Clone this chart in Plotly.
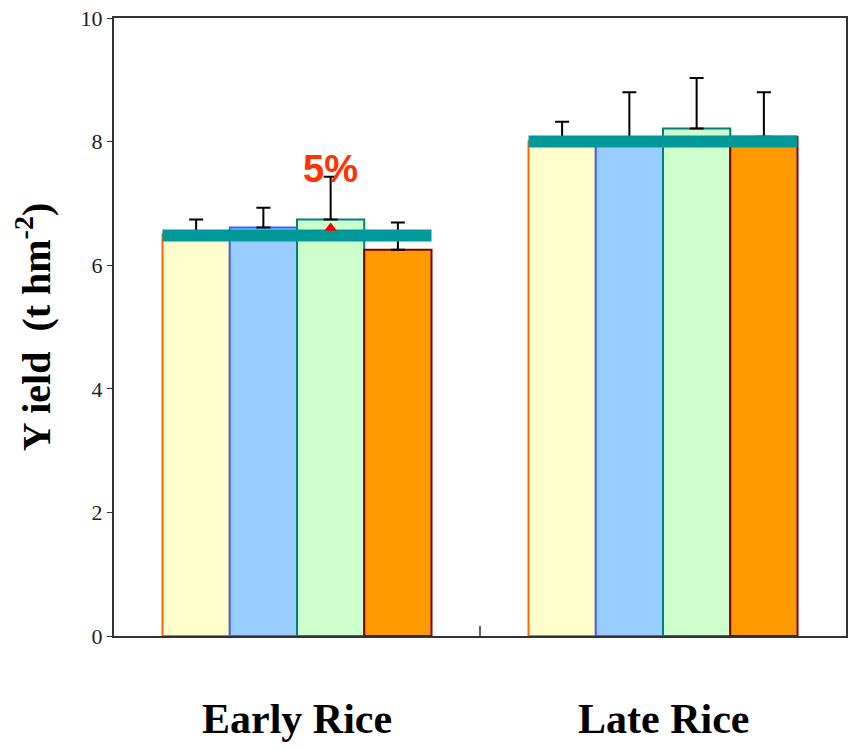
import plotly.graph_objects as go

categories = ["Early Rice", "Late Rice"]
cat_pos = [0, 1]
series_names = ["T1", "T2", "T3", "T4"]
values = [
    [6.50, 8.00],
    [6.61, 8.05],
    [6.74, 8.21],
    [6.25, 8.08],
]
errors = [
    [0.24, 0.32],
    [0.32, 0.75],
    [0.69, 0.82],
    [0.44, 0.72],
]
fills = ["#ffffcc", "#99ccff", "#ccffcc", "#ff9900"]
outlines = ["#ff6600", "#3366ff", "#008080", "#800000"]
mean_line = [6.48, 8.00]
group_half = 0.3675
marker_cat = 0
marker_series = 2
marker_y = 6.6
marker_label = "5%"

fig = go.Figure()
for i, name in enumerate(series_names):
    fig.add_trace(go.Bar(
        x=cat_pos, y=values[i], name=name,
        marker=dict(color=fills[i], line=dict(color=outlines[i], width=2)),
        error_y=dict(type="data", array=errors[i], arrayminus=[0, 0], symmetric=False,
                     color="black", thickness=2, width=7),
        showlegend=False,
    ))

for c, m in zip(cat_pos, mean_line):
    fig.add_trace(go.Scatter(
        x=[c - group_half, c + group_half], y=[m, m], mode="lines",
        line=dict(color="#009999", width=12), showlegend=False, hoverinfo="skip",
    ))

bw = (2 * group_half) / len(series_names)
mx = marker_cat - group_half + bw * (marker_series + 0.5)
fig.add_trace(go.Scatter(
    x=[mx], y=[marker_y], mode="markers",
    marker=dict(symbol="triangle-up", color="#ff0000", size=11),
    showlegend=False, hoverinfo="skip",
))
fig.add_annotation(x=mx, y=7.55, text="<b>" + marker_label + "</b>", showarrow=False,
                   font=dict(family="Liberation Sans", size=38, color="#ff3300"))

fig.update_layout(
    width=854, height=750,
    margin=dict(l=114, r=6, t=17, b=114),
    plot_bgcolor="white", paper_bgcolor="white",
    barmode="group", bargap=0.265, bargroupgap=0,
    xaxis=dict(
        range=[-0.5, 1.5], tickvals=[0.5], showticklabels=False,
        ticks="inside", ticklen=10, tickcolor="#666666", tickwidth=2,
        showline=True, linecolor="#333333", linewidth=2, mirror=True,
        showgrid=False, zeroline=False,
    ),
    yaxis=dict(
        range=[0, 10], tickvals=[0, 2, 4, 6, 8, 10],
        ticks="outside", ticklen=5, tickcolor="#333333",
        showline=True, linecolor="#333333", linewidth=2, mirror=True,
        showgrid=False, zeroline=False,
        tickfont=dict(family="Liberation Serif", size=22, color="#222222"),
        title=dict(text="<b>Y ield  (t hm<sup>-2</sup>)</b>",
                   font=dict(family="Liberation Serif", size=40, color="black"),
                   standoff=18),
    ),
)
for c, label in zip(cat_pos, categories):
    fig.add_annotation(x=c, y=-0.135, xref="x", yref="paper", text="<b>" + label + "</b>",
                       showarrow=False, yanchor="middle",
                       font=dict(family="Liberation Serif", size=42, color="black"))

fig.write_html("out.html")
